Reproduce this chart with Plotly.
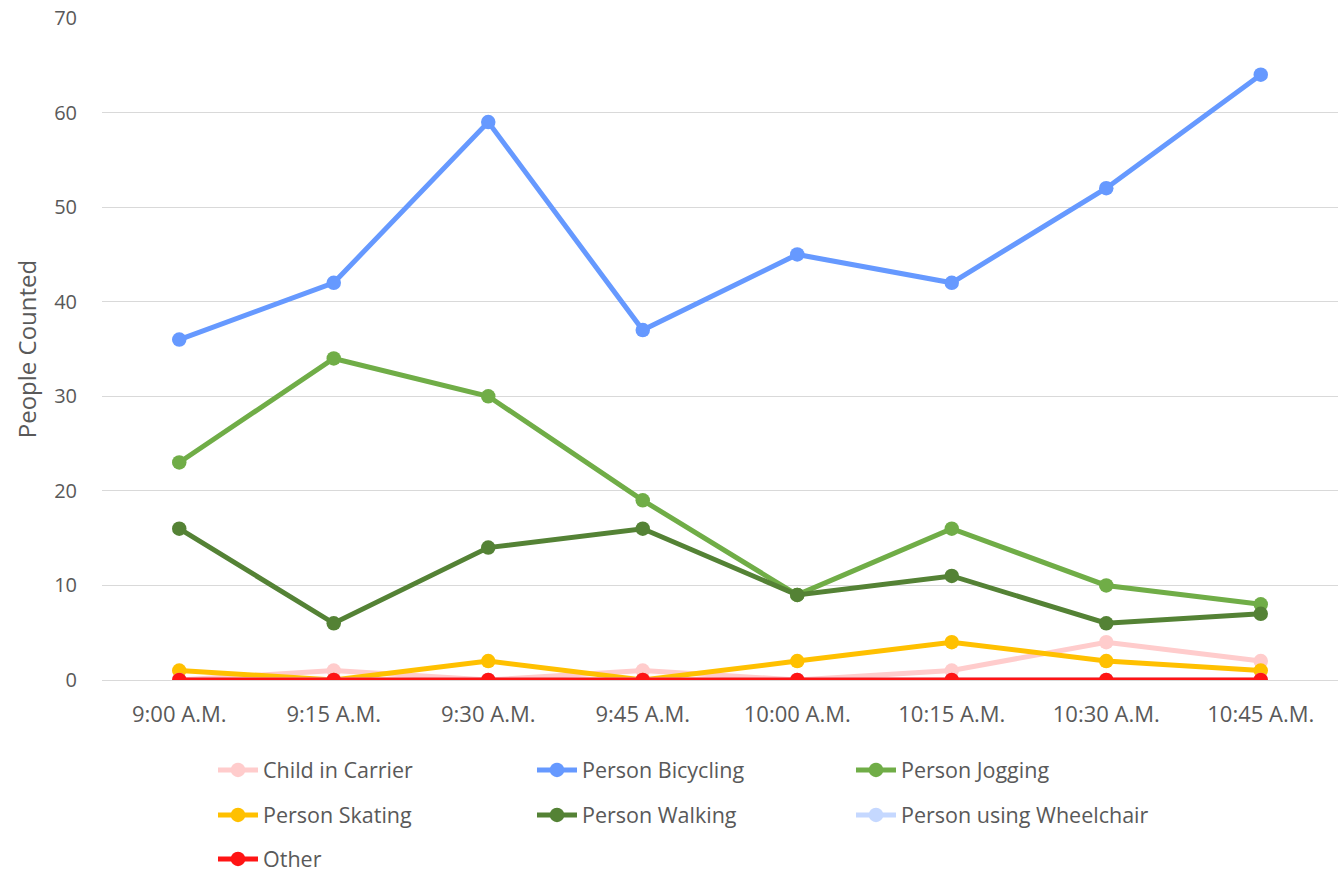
import plotly.graph_objects as go

times = ["9:00 A.M.", "9:15 A.M.", "9:30 A.M.", "9:45 A.M.", "10:00 A.M.", "10:15 A.M.", "10:30 A.M.", "10:45 A.M."]
child_in_carrier = [0, 1, 0, 1, 0, 1, 4, 2]
person_bicycling = [36, 42, 59, 37, 45, 42, 52, 64]
person_jogging = [23, 34, 30, 19, 9, 16, 10, 8]
person_skating = [1, 0, 2, 0, 2, 4, 2, 1]
person_walking = [16, 6, 14, 16, 9, 11, 6, 7]
person_wheelchair = [0, 0, 0, 0, 0, 0, 0, 0]
other = [0, 0, 0, 0, 0, 0, 0, 0]

series = [
    ("Child in Carrier", child_in_carrier, "#FFCCCC", "legend"),
    ("Person Bicycling", person_bicycling, "#6699FF", "legend"),
    ("Person Jogging", person_jogging, "#70AD47", "legend"),
    ("Person Skating", person_skating, "#FFC000", "legend2"),
    ("Person Walking", person_walking, "#548235", "legend2"),
    ("Person using Wheelchair", person_wheelchair, "#C5D8FF", "legend2"),
    ("Other", other, "#FF1414", "legend3"),
]

fig = go.Figure()
for name, vals, color, lg in series:
    fig.add_trace(go.Scatter(
        x=times, y=vals, name=name, mode="lines+markers",
        line=dict(color=color, width=5),
        marker=dict(color=color, size=14.5),
        legend=lg,
    ))

font = "Open Sans, sans-serif"
TXT = "#595959"
plot_top, plot_bottom = 18, 680
ph = plot_bottom - plot_top


def row_y(px):
    return (plot_bottom - px) / ph


legend_common = dict(
    orientation="h", x=0.0898, xanchor="left", yanchor="middle",
    entrywidth=264, entrywidthmode="pixels",
    font=dict(size=21.5, color=TXT, family=font),
    itemwidth=40, bgcolor="rgba(0,0,0,0)",
)

fig.update_layout(
    width=1338, height=872,
    margin=dict(l=102, r=0, t=plot_top, b=872 - plot_bottom, autoexpand=False),
    plot_bgcolor="white", paper_bgcolor="white",
    font=dict(family=font, color=TXT, size=20),
    showlegend=True,
    legend=dict(legend_common, y=row_y(770)),
    legend2=dict(legend_common, y=row_y(815)),
    legend3=dict(legend_common, y=row_y(859)),
)
fig.update_xaxes(
    type="category", showgrid=False, showline=False, zeroline=False, automargin=False,
    tickfont=dict(size=22, color=TXT), ticklabelstandoff=19,
    range=[-0.5, 7.5],
)
fig.update_yaxes(
    range=[0, 70], dtick=10, showgrid=True, gridcolor="#D9D9D9", gridwidth=1,
    zeroline=True, zerolinecolor="#D9D9D9", zerolinewidth=1, automargin=False,
    tickfont=dict(size=20, color=TXT), ticklabelstandoff=24,
    title=dict(text="People Counted", font=dict(size=24, color=TXT), standoff=10),
)
fig.write_html(
    "out.html",
    config={"displayModeBar": False},
    post_script="document.body.style.margin='0';document.body.style.overflow='hidden';",
)
